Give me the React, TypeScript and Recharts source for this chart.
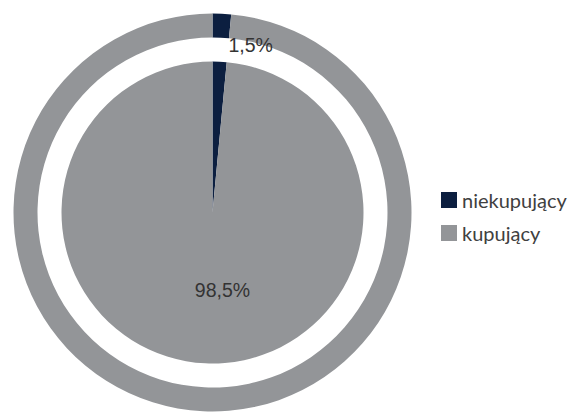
import React from "react";
import { PieChart, Pie, Cell, Legend } from "recharts";

const categories = ["niekupujący", "kupujący"];
const values = [1.5, 98.5];
const valueLabels = ["1,5%", "98,5%"];
const colors = ["#0c1f40", "#939598"];

const data = categories.map((name, i) => ({ name, value: values[i], label: valueLabels[i] }));

const renderLabel = (props: any) => {
  const { cx, cy, index } = props;
  if (index === 0) {
    return (
      <text x={cx + 16} y={cy - 168} textAnchor="start" dominantBaseline="central"
        fontFamily="Liberation Sans, Arial, sans-serif" fontSize={19.5} fill="#333333">
        {data[0].label}
      </text>
    );
  }
  return (
    <text x={cx + 10} y={cy + 77} textAnchor="middle" dominantBaseline="central"
      fontFamily="Liberation Sans, Arial, sans-serif" fontSize={19.5} fill="#333333">
      {data[1].label}
    </text>
  );
};

const renderLegend = () => (
  <div style={{ fontFamily: "Lato, sans-serif", fontSize: 20, color: "#404040" }}>
    {data.map((d, i) => (
      <div key={d.name} style={{ display: "flex", alignItems: "center", height: 33 }}>
        <span style={{ display: "inline-block", width: 16, height: 16, background: colors[i], marginRight: 5 }} />
        <span>{d.name}</span>
      </div>
    ))}
  </div>
);

export default function App() {
  return (
    <div style={{ position: "absolute", left: 0, top: 0, width: 577, height: 414, background: "#fff" }}>
      <PieChart width={577} height={414}>
        <Pie data={data} dataKey="value" cx={207.5} cy={207.5} innerRadius={0} outerRadius={151}
          startAngle={90} endAngle={-270} stroke="none" isAnimationActive={false}
          label={renderLabel} labelLine={false}>
          {data.map((d, i) => <Cell key={d.name} fill={colors[i]} />)}
        </Pie>
        <Pie data={data} dataKey="value" cx={207.5} cy={207.5} innerRadius={175} outerRadius={199}
          startAngle={90} endAngle={-270} stroke="none" isAnimationActive={false} legendType="none">
          {data.map((d, i) => <Cell key={d.name} fill={colors[i]} />)}
        </Pie>
        <Legend content={renderLegend} layout="vertical"
          wrapperStyle={{ position: "absolute", left: 441, top: 183, width: 136 }} />
      </PieChart>
    </div>
  );
}
